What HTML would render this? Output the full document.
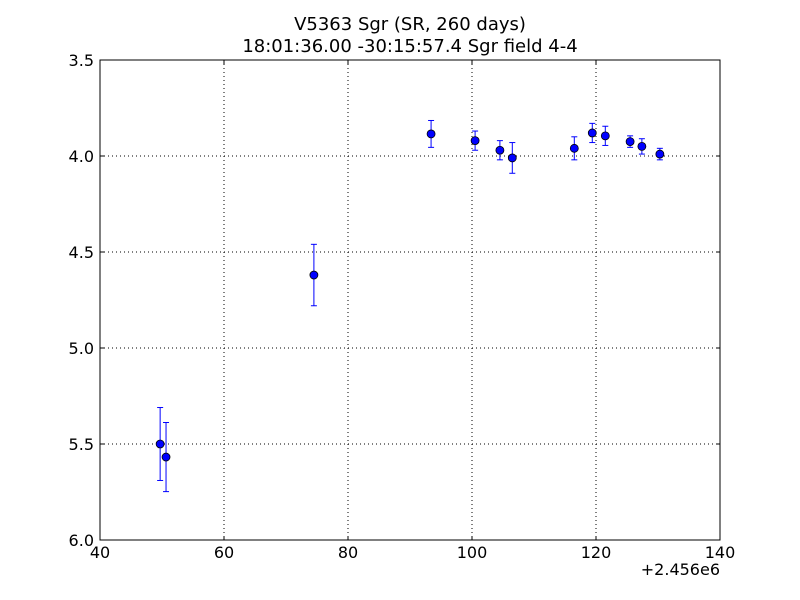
<!DOCTYPE html>
<html><head><meta charset="utf-8"><style>
body{margin:0;background:#fff;}
svg{display:block;font-family:"DejaVu Sans","Liberation Sans",sans-serif;}
</style></head><body>
<svg id="chart" width="800" height="600" viewBox="0 0 800 600" xmlns="http://www.w3.org/2000/svg">
<rect x="0" y="0" width="800" height="600" fill="#fff"/>
<text x="410" y="30" text-anchor="middle" font-size="18">V5363 Sgr (SR, 260 days)</text>
<text x="410" y="52" text-anchor="middle" font-size="18">18:01:36.00 -30:15:57.4 Sgr field 4-4</text>
<g id="grid"></g>
<g id="ticks"></g>
<g id="marks"></g>
<rect x="100" y="60" width="620" height="480" fill="none" stroke="#000" stroke-width="1"/>
<text x="720" y="575" text-anchor="end" font-size="16">+2.456e6</text>
</svg>
<script>
const xs = [49.7, 50.65, 74.5, 93.4, 100.5, 104.5, 106.5, 116.5, 119.4, 121.5, 125.5, 127.4, 130.3];
const mags = [5.5, 5.568, 4.62, 3.885, 3.92, 3.97, 4.01, 3.96, 3.88, 3.895, 3.925, 3.95, 3.99];
const errs = [0.19, 0.18, 0.16, 0.07, 0.05, 0.05, 0.08, 0.06, 0.05, 0.05, 0.03, 0.04, 0.03];
const xTicks = [40, 60, 80, 100, 120, 140];
const yTicks = [3.5, 4.0, 4.5, 5.0, 5.5, 6.0];
const xTickLabels = ["40", "60", "80", "100", "120", "140"];
const yTickLabels = ["3.5", "4.0", "4.5", "5.0", "5.5", "6.0"];

const L=100,R=720,T=60,B=540,xmin=40,xmax=140,ymin=3.5,ymax=6.0;
const sx=v=>L+(v-xmin)/(xmax-xmin)*(R-L);
const sy=v=>T+(v-ymin)/(ymax-ymin)*(B-T);
const NS="http://www.w3.org/2000/svg";
function mk(tag,attrs,parent){const e=document.createElementNS(NS,tag);for(const k in attrs)e.setAttribute(k,attrs[k]);parent.appendChild(e);return e;}
const grid=document.getElementById('grid'),ticks=document.getElementById('ticks'),marks=document.getElementById('marks');
xTicks.forEach((t,i)=>{
  const x=sx(t);
  if(i>0&&i<xTicks.length-1){const g=mk('line',{x1:x,x2:x,y1:T,y2:B,stroke:'#000','stroke-dasharray':'1,3','stroke-width':1},grid);
  
  }
  mk('line',{x1:x,x2:x,y1:B,y2:B-4,stroke:'#000'},ticks);
  mk('line',{x1:x,x2:x,y1:T,y2:T+4,stroke:'#000'},ticks);
  const tx=mk('text',{x:x,y:B+18,'text-anchor':'middle','font-size':16},ticks);
  tx.textContent=xTickLabels[i];
  
  
});
yTicks.forEach((t,i)=>{
  const y=sy(t);
  if(i>0&&i<yTicks.length-1){const g=mk('line',{x1:L,x2:R,y1:y,y2:y,stroke:'#000','stroke-dasharray':'1,3','stroke-width':1},grid);
  
  }
  mk('line',{x1:L,x2:L+4,y1:y,y2:y,stroke:'#000'},ticks);
  mk('line',{x1:R,x2:R-4,y1:y,y2:y,stroke:'#000'},ticks);
  const tx=mk('text',{x:L-6,y:y+6,'text-anchor':'end','font-size':16},ticks);
  tx.textContent=yTickLabels[i];
  
  
});
xs.forEach((xv,i)=>{
  const x=sx(xv),y=sy(mags[i]),y1=sy(mags[i]-errs[i]),y2=sy(mags[i]+errs[i]);
  const g=mk('g',{},marks);
  
  
  mk('line',{x1:x,x2:x,y1:y1,y2:y2,stroke:'#0000ff'},g);
  mk('line',{x1:x-3,x2:x+3,y1:y1,y2:y1,stroke:'#0000ff'},g);
  mk('line',{x1:x-3,x2:x+3,y1:y2,y2:y2,stroke:'#0000ff'},g);
  mk('circle',{cx:x,cy:y,r:4,fill:'#0000ff',stroke:'#000','stroke-width':0.8},g);
});
</script>
</body></html>
